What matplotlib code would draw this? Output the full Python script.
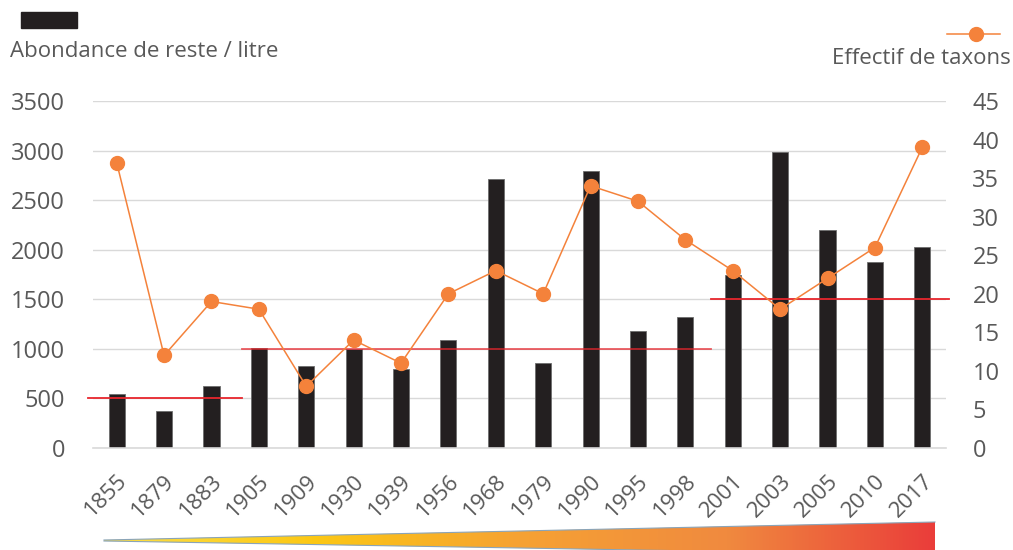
import numpy as np
import matplotlib.pyplot as plt
from matplotlib.patches import Polygon, Rectangle
from matplotlib.lines import Line2D
from matplotlib.colors import LinearSegmentedColormap

plt.rcParams['font.family'] = ['Open Sans', 'DejaVu Sans']

years = ["1855", "1879", "1883", "1905", "1909", "1930", "1939", "1956", "1968",
         "1979", "1990", "1995", "1998", "2001", "2003", "2005", "2010", "2017"]
abondance = [540, 370, 625, 1010, 830, 1000, 800, 1090, 2710,
             860, 2790, 1180, 1320, 1740, 2990, 2200, 1880, 2030]
taxons = [37, 12, 19, 18, 8, 14, 11, 20, 23,
          20, 34, 32, 27, 23, 18, 22, 26, 39]
left_ticks = [0, 500, 1000, 1500, 2000, 2500, 3000, 3500]
right_ticks = [0, 5, 10, 15, 20, 25, 30, 35, 40, 45]
# period reference levels (left axis) with their x extents in category units
periods = [(-0.61, 2.64, 500), (2.64, 12.55, 1000), (12.55, 17.57, 1500)]

text_col = "#595959"
bar_col = "#231f20"
line_col = "#f4823b"

fig = plt.figure(figsize=(10.13, 5.5), dpi=100)
ax = fig.add_axes([93/1013, 1-448/550, (946-93)/1013, (448-101)/550])
x = np.arange(len(years))

ax.bar(x, abondance, width=0.34, color=bar_col, edgecolor="#6d6d6d", linewidth=0.6, zorder=2)
ax.set_ylim(0, 3500)
ax.set_xlim(-0.5, len(years) - 0.5)
ax.set_yticks(left_ticks)
ax.yaxis.grid(True, color="#d9d9d9", linewidth=1.0, zorder=0)
ax.set_axisbelow(True)
for s in ["top", "right", "left"]:
    ax.spines[s].set_visible(False)
ax.spines["bottom"].set_color("#d9d9d9")
ax.spines["bottom"].set_linewidth(1.2)
ax.tick_params(axis="y", length=0, pad=20, labelsize=17, labelcolor=text_col)
ax.tick_params(axis="x", length=0, pad=16, labelsize=16, labelcolor=text_col)
ax.set_xticks(x)
ax.set_xticklabels(years, rotation=45, ha="right", rotation_mode="anchor")

for i, (x0, x1, lvl) in enumerate(periods):
    ax.plot([x0, x1], [lvl, lvl], color="#e8262d", alpha=1.0 if i != 1 else 0.75,
            linewidth=1.3, zorder=3, clip_on=False)

ax2 = ax.twinx()
ax2.plot(x, taxons, color=line_col, linewidth=1.1, marker="o", markersize=10,
         markerfacecolor=line_col, markeredgecolor=line_col, zorder=4)
ax2.set_ylim(0, 45)
ax2.set_yticks(right_ticks)
for s in ["top", "right", "left", "bottom"]:
    ax2.spines[s].set_visible(False)
ax2.tick_params(axis="y", length=0, pad=19, labelsize=17, labelcolor=text_col)

# legends drawn in figure coordinates
fig.patches.append(Rectangle((21/1013, 1-28/550), 56/1013, 16/550,
                             transform=fig.transFigure, color=bar_col, figure=fig))
fig.text(10/1013, 1-52/550, "Abondance de reste / litre", fontsize=16,
         color=text_col, va="center", ha="left")
fig.lines.append(Line2D([947/1013, 1000/1013], [1-34/550, 1-34/550],
                        transform=fig.transFigure, color=line_col, linewidth=1.1,
                        marker=None, figure=fig))
fig.lines.append(Line2D([976/1013], [1-34/550], transform=fig.transFigure,
                        color=line_col, marker="o", markersize=10, figure=fig))
fig.text(1011/1013, 1-58/550, "Effectif de taxons", fontsize=16,
         color=text_col, va="center", ha="right")

# time gradient wedge along the bottom
gax = fig.add_axes([0, 0, 1, 1], zorder=-1)
gax.set_xlim(0, 1013)
gax.set_ylim(550, 0)
gax.axis("off")
cmap = LinearSegmentedColormap.from_list(
    "time", ["#fde047", "#fcc814", "#f6a233", "#f08a3f", "#ea3d3a"])
grad = np.linspace(0, 1, 512).reshape(1, -1)
im = gax.imshow(grad, extent=[104, 935, 553, 521], cmap=cmap, aspect="auto")
wedge = Polygon([(104, 540), (935, 522), (935, 555), (104, 541)], closed=True,
                facecolor="none", edgecolor="none")
gax.add_patch(wedge)
im.set_clip_path(wedge)
gax.plot([104, 935], [540, 522], color="#8aa4b8", linewidth=0.8)
gax.plot([104, 935], [541, 555], color="#8aa4b8", linewidth=0.8)

fig.savefig("out.png", dpi=100)
